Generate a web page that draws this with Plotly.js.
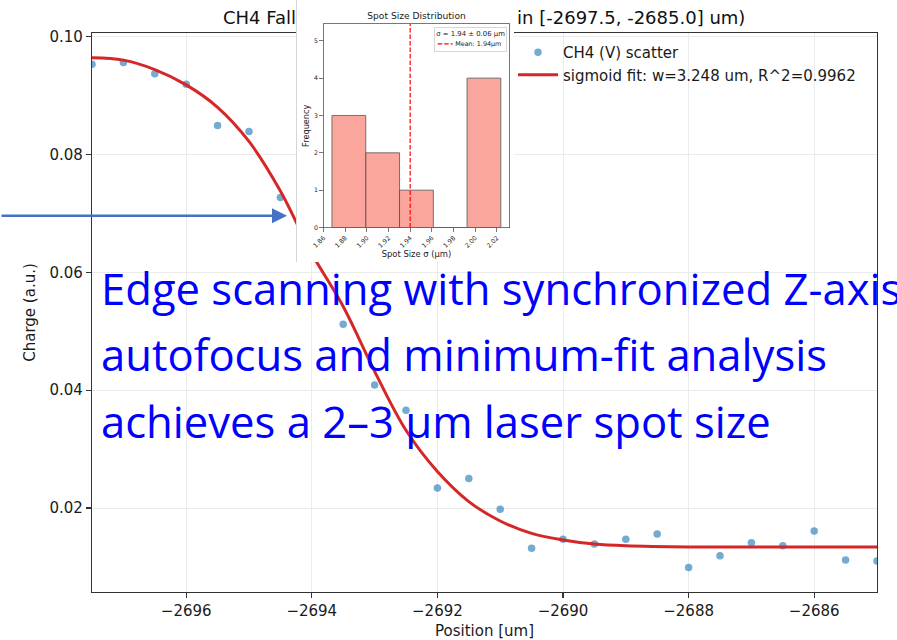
<!DOCTYPE html>
<html><head><meta charset="utf-8">
<script src="https://cdn.plot.ly/plotly-3.0.1.min.js"></script>
<style>
html,body{margin:0;padding:0;background:#fff;}
#wrap{position:relative;width:897px;height:640px;overflow:hidden;background:#fff;}
#main{position:absolute;left:0;top:0;width:897px;height:640px;}
#inset{position:absolute;left:296px;top:0;width:434px;height:524px;transform:scale(0.5);transform-origin:0 0;background:#fff;border-left:2px solid #d6d6d6;box-sizing:border-box;}
</style></head><body>
<div id="wrap"><div id="main"></div><div id="inset"></div></div>
<script>
// ---------- main chart data ----------
const positions = [-2697.5, -2697.0, -2696.5, -2696.0, -2695.5, -2695.0, -2694.5, -2694.0, -2693.5, -2693.0,
                   -2692.5, -2692.0, -2691.5, -2691.0, -2690.5, -2690.0, -2689.5, -2689.0, -2688.5, -2688.0,
                   -2687.5, -2687.0, -2686.5, -2686.0, -2685.5, -2685.0];
const charge = [0.0953, 0.0956, 0.0937, 0.0919, 0.0849, 0.0839, 0.0727, 0.0655, 0.0512, 0.0409,
                0.0366, 0.0234, 0.0250, 0.0198, 0.0132, 0.0147, 0.0139, 0.0147, 0.0156, 0.0099,
                0.0119, 0.0141, 0.0136, 0.0161, 0.0112, 0.0110];
const fitX = [-2697.5, -2697.0, -2696.5, -2696.0, -2695.5, -2695.0, -2694.5, -2694.0, -2693.5, -2693.0,
              -2692.5, -2692.0, -2691.5, -2691.0, -2690.5, -2690.0, -2689.5, -2689.0, -2688.0, -2687.0,
              -2686.0, -2685.0];
const fitY = [0.0964, 0.0960, 0.0944, 0.0918, 0.0880, 0.0822, 0.0738, 0.0632, 0.0542, 0.0432,
              0.0332, 0.0262, 0.0211, 0.0178, 0.0157, 0.0146, 0.0139, 0.0136, 0.0134, 0.0134,
              0.0134, 0.0134];
const xTickVals = [-2696, -2694, -2692, -2690, -2688, -2686];
const yTickVals = [0.02, 0.04, 0.06, 0.08, 0.10];
const scatterName = 'CH4 (V) scatter';
const fitName = 'sigmoid fit: w=3.248 um, R^2=0.9962';
const mainTitle = 'CH4 Falling Edge Sigmoid Fit (fit in [-2697.5, -2685.0] um)';
const xTitle = 'Position [um]';
const yTitle = 'Charge (a.u.)';
const noteLines = ['Edge scanning with synchronized Z-axis',
                   'autofocus and minimum-fit analysis',
                   'achieves a 2\u20133 \u00b5m laser spot size'];

// ---------- inset data ----------
const binEdges = [1.8678, 1.8990, 1.9302, 1.9614, 1.9925, 2.0237];
const binCounts = [3, 2, 1, 0, 4];
const spotMean = 1.94;
const insetXTicks = [1.86, 1.88, 1.90, 1.92, 1.94, 1.96, 1.98, 2.00, 2.02];
const insetYTicks = [0, 1, 2, 3, 4, 5];
const insetTitle = 'Spot Size Distribution';
const insetXTitle = 'Spot Size \u03c3 (\u03bcm)';
const insetYTitle = 'Frequency';
const statsText = '\u03c3 = 1.94 \u00b1 0.06 \u03bcm';
const meanName = 'Mean: 1.94\u03bcm';

// ---------- main chart ----------
const W = 897, H = 640, ML = 92, MR = 20, MT = 33, MB = 48;
const PW = W - ML - MR, PH = H - MT - MB;
const pxX = p => (p - ML) / PW;
const pxY = p => (H - MB - p) / PH;

const axisCommon = {
  showline: true, linecolor: '#333', linewidth: 1.2, mirror: true,
  ticks: 'outside', ticklen: 5, tickwidth: 1.2, tickcolor: '#333',
  showgrid: true, gridcolor: '#ebebeb', gridwidth: 1, zeroline: false,
  tickfont: {size: 15, color: '#1a1a1a'}
};

const mainTraces = [
  {type: 'scatter', mode: 'markers', x: positions, y: charge, name: scatterName,
   marker: {size: 7.5, color: 'rgba(31,119,180,0.62)'}},
  {type: 'scatter', mode: 'lines', x: fitX, y: fitY, name: fitName,
   line: {color: '#d62728', width: 3, shape: 'spline', smoothing: 1}}
];

const noteAnns = noteLines.map((t, i) => ({
  text: t, xref: 'paper', yref: 'paper', x: pxX(100), y: pxY([288, 354, 421][i]),
  xanchor: 'left', yanchor: 'middle', showarrow: false, borderpad: 0,
  font: {family: 'Open Sans', size: 43.6, color: '#0000ff'}
}));

const arrowAnn = {
  text: '', xref: 'paper', yref: 'paper', x: pxX(287), y: pxY(215.7),
  showarrow: true, axref: 'pixel', ayref: 'pixel', ax: -300, ay: 0,
  arrowhead: 2, arrowsize: 1.2, arrowwidth: 2.5, arrowcolor: '#4472c4', standoff: 0
};

const mainLayout = {
  width: W, height: H,
  margin: {l: ML, r: MR, t: MT, b: MB},
  paper_bgcolor: '#ffffff', plot_bgcolor: '#ffffff',
  font: {family: 'DejaVu Sans', size: 15, color: '#1a1a1a'},
  title: {text: mainTitle, font: {size: 18, color: '#111'},
          xref: 'container', x: 223 / W, xanchor: 'left',
          yref: 'container', y: 1 - 18 / H, yanchor: 'middle'},
  xaxis: Object.assign({}, axisCommon, {
    range: [-2697.5, -2685.0], tickmode: 'array', tickvals: xTickVals,
    title: {text: xTitle, font: {size: 15}, standoff: 8}
  }),
  yaxis: Object.assign({}, axisCommon, {
    range: [0.00576, 0.1006], tickmode: 'array', tickvals: yTickVals, tickformat: '.2f',
    title: {text: yTitle, font: {size: 15}, standoff: 10}
  }),
  showlegend: true,
  legend: {x: pxX(513), y: pxY(36), xanchor: 'left', yanchor: 'top',
           bgcolor: 'rgba(0,0,0,0)', borderwidth: 0, itemwidth: 40,
           font: {size: 15, color: '#1a1a1a'}},
  annotations: noteAnns.concat([arrowAnn])
};

Plotly.newPlot('main', mainTraces, mainLayout, {displayModeBar: false, staticPlot: true});

// ---------- inset (drawn at 2x then scaled by CSS) ----------
const binCenters = binCounts.map((c, i) => (binEdges[i] + binEdges[i + 1]) / 2);
const binWidths = binCounts.map((c, i) => binEdges[i + 1] - binEdges[i]);
const insetYRange = [0, 5.45];

const insetAxis = {
  showline: true, linecolor: '#555', linewidth: 1.6, mirror: true,
  ticks: 'outside', ticklen: 7, tickwidth: 1.6, tickcolor: '#555',
  showgrid: false, zeroline: false, tickfont: {size: 12.5, color: '#222'}
};

const insetTraces = [
  {type: 'bar', x: binCenters, y: binCounts, width: binWidths, showlegend: false,
   marker: {color: 'rgba(250,128,114,0.7)', line: {color: '#555', width: 1.6}}},
  {type: 'scatter', mode: 'lines', x: [spotMean, spotMean], y: insetYRange, name: meanName,
   line: {color: '#ff0000', width: 2.4, dash: '9px,4px'}}
];

const insetLayout = {
  width: 434, height: 524,
  margin: {l: 53, r: 9, t: 48, b: 69},
  paper_bgcolor: '#ffffff', plot_bgcolor: '#ffffff',
  font: {family: 'DejaVu Sans', size: 12.5, color: '#222'},
  title: {text: insetTitle, font: {size: 18.3, color: '#222'}, xref: 'paper', x: 0.5, xanchor: 'center',
          yref: 'container', y: 1 - 32 / 524, yanchor: 'middle'},
  xaxis: Object.assign({}, insetAxis, {
    range: [1.86, 2.0317], tickmode: 'array', tickvals: insetXTicks, tickformat: '.2f', tickangle: -45,
    title: {text: insetXTitle, font: {size: 16.8}, standoff: 4}
  }),
  yaxis: Object.assign({}, insetAxis, {
    range: insetYRange, tickmode: 'array', tickvals: insetYTicks,
    title: {text: insetYTitle, font: {size: 16.4}, standoff: 6}
  }),
  bargap: 0,
  showlegend: true,
  legend: {x: 0.986, y: 0.987, xanchor: 'right', yanchor: 'top',
           bgcolor: 'rgba(255,255,255,0.8)', bordercolor: '#cccccc', borderwidth: 1.6,
           title: {text: statsText, font: {size: 13.8, color: '#222'}},
           font: {size: 12.8, color: '#222'}}
};

Plotly.newPlot('inset', insetTraces, insetLayout, {displayModeBar: false, staticPlot: true});
</script>
</body></html>
